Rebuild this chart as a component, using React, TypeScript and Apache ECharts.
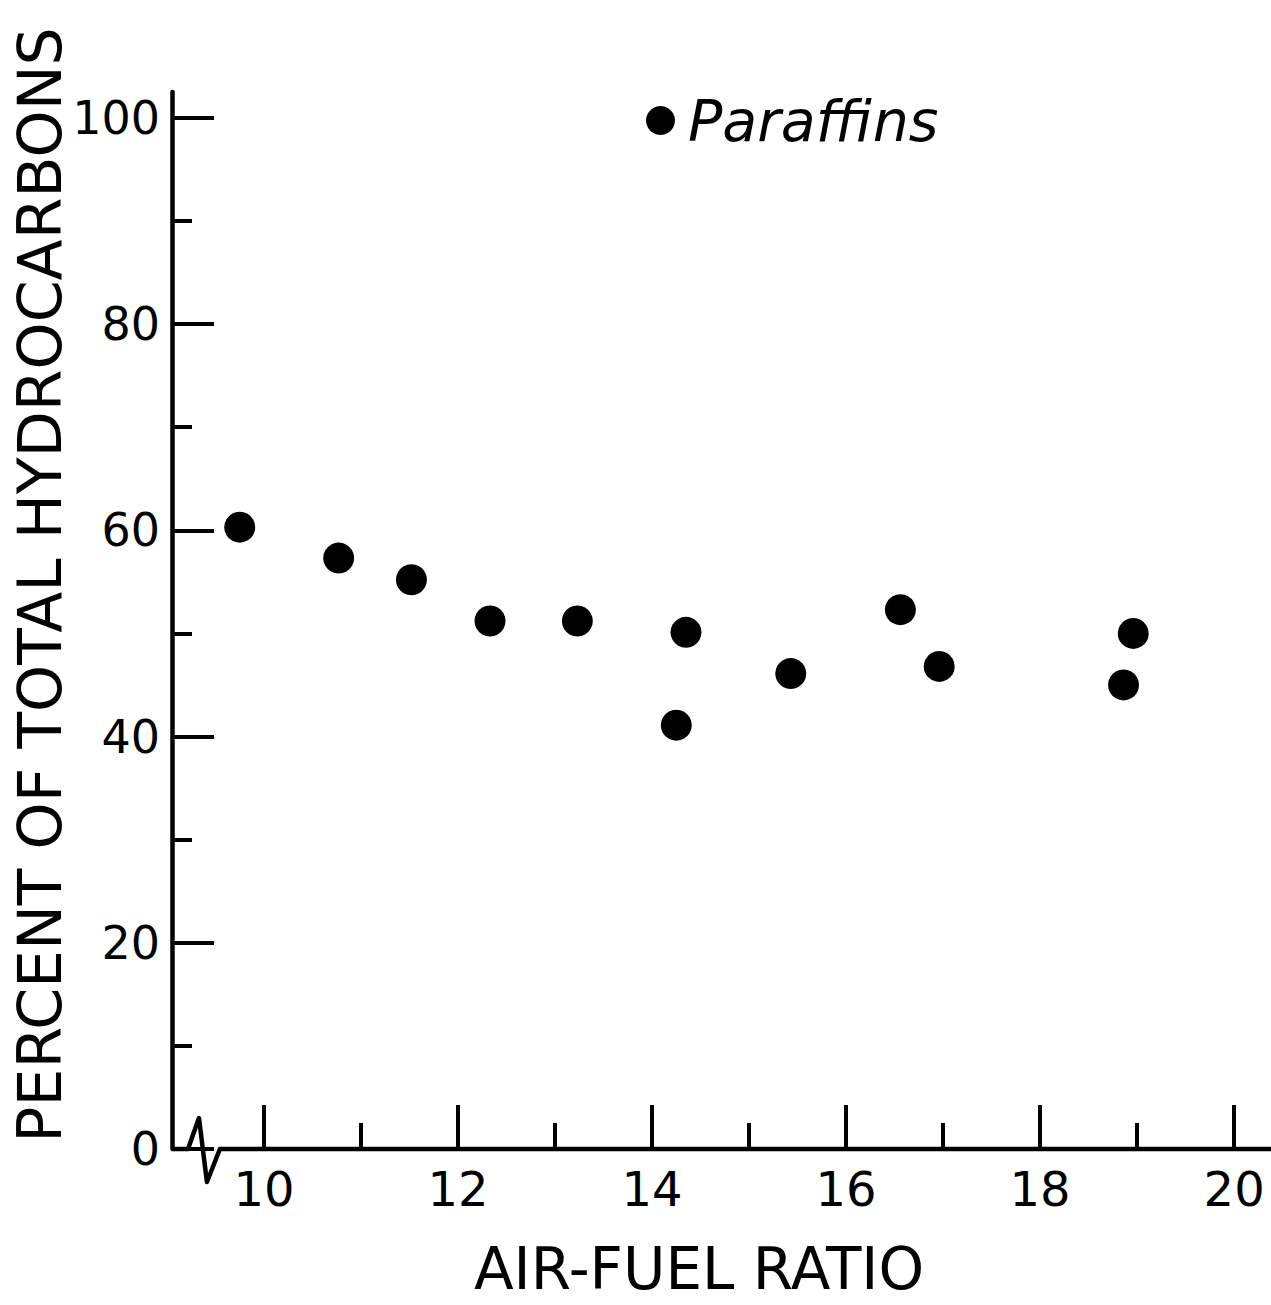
import React, { useEffect, useRef } from "react";
import * as echarts from "echarts";

// Data
const airFuel = [9.75, 10.77, 11.52, 12.33, 13.23, 14.25, 14.35, 15.43, 16.56, 16.96, 18.86, 18.96];
const paraffins = [60.3, 57.3, 55.2, 51.2, 51.2, 41.1, 50.1, 46.1, 52.3, 46.8, 45.0, 50.0];

const xMajor = [10, 12, 14, 16, 18, 20];
const xMinor = [11, 13, 15, 17, 19];
const yMajor = [0, 20, 40, 60, 80, 100];
const yMinor = [10, 30, 50, 70, 90];

// x-axis baseline with the broken-axis zigzag
const baseX = [9.052, 9.217, 9.33, 9.412, 9.546, 20.38];
const baseY = [0, 0, 3.0, -3.2, 0, 0];

const FONT = "DejaVu Sans";

export default function App() {
  const ref = useRef<HTMLDivElement>(null);

  useEffect(() => {
    document.body.style.margin = "0";
    if (!ref.current) return;
    const chart = echarts.init(ref.current, null, { renderer: "svg" });
    const black = "#000";
    const option: any = {
      animation: false,
      backgroundColor: "#fff",
      grid: { left: 172, right: 0, top: 92, bottom: 156, containLabel: false },
      legend: {
        data: ["Paraffins"],
        left: 641,
        top: 87,
        icon: "circle",
        itemWidth: 29,
        itemHeight: 29,
        selectedMode: false,
        itemStyle: { opacity: 1, color: black },
        textStyle: {
          fontFamily: FONT,
          fontSize: 57,
          fontStyle: "italic",
          color: black,
          padding: [0, 0, 0, 8],
        },
      },
      xAxis: [
        {
          type: "value",
          position: "bottom",
          min: 9.052,
          max: 20.38,
          axisLine: { show: false },
          splitLine: { show: false },
          axisTick: {
            show: true,
            inside: true,
            length: 44,
            customValues: xMajor,
            lineStyle: { color: black, width: 4 },
          },
          axisLabel: {
            customValues: xMajor,
            margin: 16,
            fontFamily: FONT,
            fontSize: 48,
            color: black,
          },
        },
        {
          type: "value",
          position: "bottom",
          min: 9.052,
          max: 20.38,
          axisLine: { show: false },
          splitLine: { show: false },
          axisLabel: { show: false },
          axisTick: {
            show: true,
            inside: true,
            length: 26,
            customValues: xMinor,
            lineStyle: { color: black, width: 4 },
          },
        },
      ],
      yAxis: [
        {
          type: "value",
          position: "left",
          min: 0,
          max: 102.5,
          splitLine: { show: false },
          axisLine: { show: true, lineStyle: { color: black, width: 4.5 } },
          axisTick: {
            show: true,
            inside: true,
            length: 42,
            customValues: yMajor,
            lineStyle: { color: black, width: 4 },
          },
          axisLabel: {
            customValues: yMajor,
            margin: 12,
            fontFamily: FONT,
            fontSize: 46,
            color: black,
          },
        },
        {
          type: "value",
          position: "left",
          min: 0,
          max: 102.5,
          splitLine: { show: false },
          axisLine: { show: false },
          axisLabel: { show: false },
          axisTick: {
            show: true,
            inside: true,
            length: 20,
            customValues: yMinor,
            lineStyle: { color: black, width: 4 },
          },
        },
      ],
      series: [
        {
          name: "axisBase",
          type: "line",
          xAxisIndex: 0,
          yAxisIndex: 0,
          data: baseX.map((x, i) => [x, baseY[i]]),
          symbol: "none",
          clip: false,
          silent: true,
          lineStyle: { color: black, width: 4.5, join: "round" },
          z: 1,
        },
        {
          name: "Paraffins",
          type: "scatter",
          xAxisIndex: 0,
          yAxisIndex: 0,
          data: airFuel.map((x, i) => [x, paraffins[i]]),
          symbol: "circle",
          symbolSize: 31,
          itemStyle: { color: black, opacity: 1 },
          z: 3,
        },
      ],
      graphic: [
        {
          type: "text",
          x: 40,
          y: 585,
          rotation: Math.PI / 2,
          style: {
            text: "PERCENT OF TOTAL HYDROCARBONS",
            fontFamily: FONT,
            fontSize: 60,
            fill: black,
            textAlign: "center",
            textVerticalAlign: "middle",
          },
        },
        {
          type: "text",
          x: 699,
          y: 1269,
          style: {
            text: "AIR-FUEL RATIO",
            fontFamily: FONT,
            fontSize: 58,
            fill: black,
            textAlign: "center",
            textVerticalAlign: "middle",
          },
        },
      ],
    };
    chart.setOption(option);
    return () => chart.dispose();
  }, []);

  return <div ref={ref} style={{ width: 1271, height: 1305 }} />;
}
